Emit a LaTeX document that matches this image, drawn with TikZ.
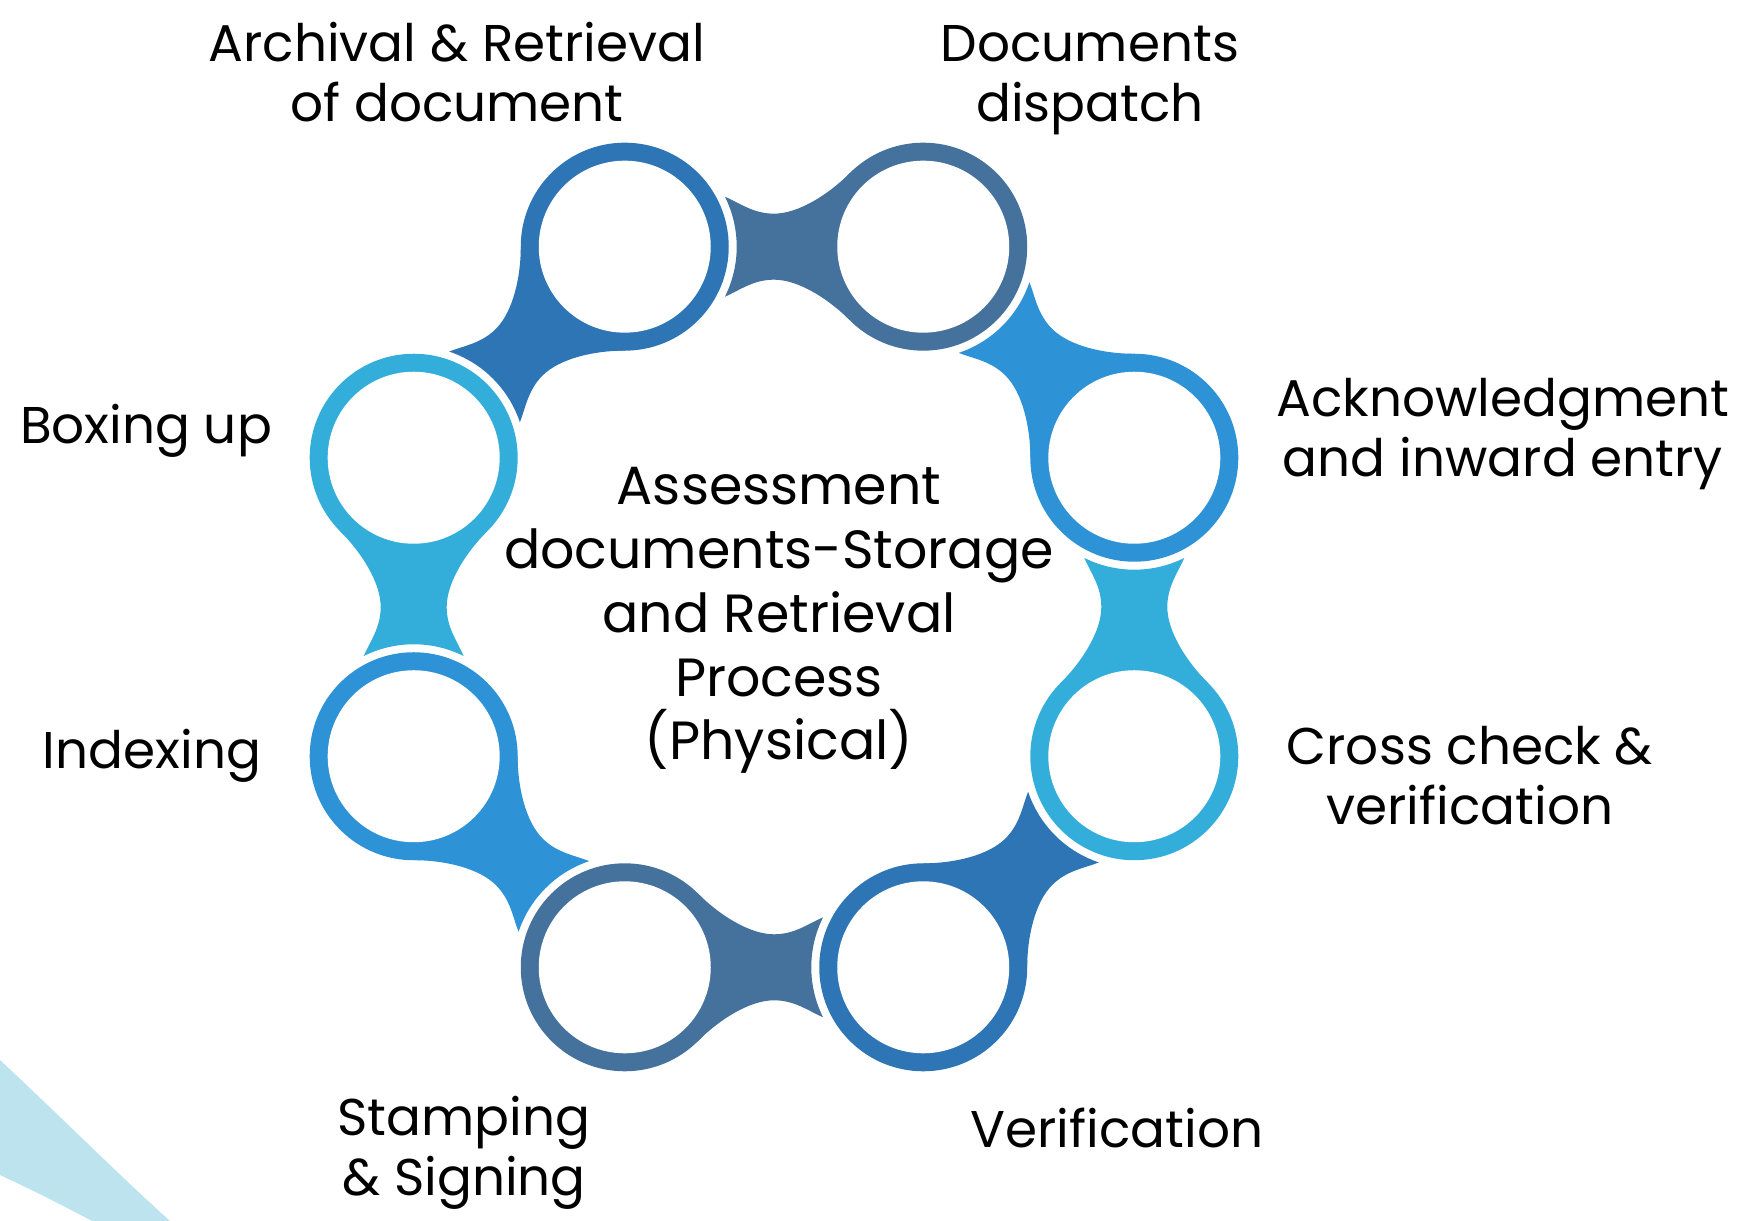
\documentclass[tikz,border=0pt]{standalone}
\usepackage{fontspec}
\setmainfont{Poppins}
\usepackage{xcolor}
\usepackage{tkz-euclide}
\usetikzlibrary{calc}

\definecolor{ringA}{HTML}{2E75B6}
\definecolor{ringB}{HTML}{44729D}
\definecolor{ringC}{HTML}{2E92D6}
\definecolor{ringD}{HTML}{33AEDB}
\definecolor{swoosh}{HTML}{BDE4EE}

% ring with its tail pointing to the next ring
\newcommand{\ringtail}[3]{%
  \begin{scope}[shift={(#1)},rotate=#2]
    \fill[#3] (0,0) circle (1.04);
    \fill[#3] (0.735,0.735) .. controls (0.95,0.52) and (1.25,0.33) .. (1.4925,0.33)
      .. controls (1.70,0.33) and (1.833,0.435) .. (1.983,0.5)
      arc[start angle=153.5,end angle=206.5,radius=1.12]
      .. controls (1.833,-0.435) and (1.70,-0.33) .. (1.4925,-0.33)
      .. controls (1.25,-0.33) and (0.95,-0.52) .. (0.735,-0.735) -- (0,0) -- cycle;
    \fill[white] (0,0) circle (0.86);
  \end{scope}}

\begin{document}
\begin{tikzpicture}[lbl/.style={align=center,anchor=base,font=\fontsize{14.7}{17.1}\selectfont},
    mid/.style={align=center,anchor=base,font=\fontsize{15.3}{18.2}\selectfont}]
	    \useasboundingbox (0,0) rectangle (17.48,12.21);
	    \tkzDefPoint(7.74,6.14){O}
	    \tkzDefPoint(6.2475,9.7431){v_1}
	    \tkzDefPoint(9.2325,9.7431){v_2}
	    \tkzDefPoint(11.3431,7.6325){v_3}
	    \tkzDefPoint(11.3431,4.6475){v_4}
	    \tkzDefPoint(9.2325,2.5369){v_5}
	    \tkzDefPoint(6.2475,2.5369){v_6}
	    \tkzDefPoint(4.1369,4.6475){v_7}
	    \tkzDefPoint(4.1369,7.6325){v_8}

	    % corner swoosh
	    \fill[swoosh] (0,1.61) .. controls (0.6,1.05) and (1.2,0.45) .. (1.70,0)
	      -- (0.92,0) .. controls (0.6,0.17) and (0.3,0.32) .. (0,0.46) -- cycle;

	    \ringtail{v_1}{225}{ringA}
	    \ringtail{v_2}{180}{ringB}
	    \ringtail{v_3}{135}{ringC}
	    \ringtail{v_4}{90}{ringD}
	    \ringtail{v_5}{45}{ringA}
	    \ringtail{v_6}{0}{ringB}
	    \ringtail{v_7}{-45}{ringC}
	    \ringtail{v_8}{-90}{ringD}

	    % base anchor = last line
	    \node[mid] (t) at (7.79,4.61) {Assessment\\documents-Storage\\and Retrieval\\Process\\(Physical)};
	    \node[lbl] (l_1) at (4.57,10.99) {Archival \& Retrieval\\of document};
	    \node[lbl] (l_2) at (10.90,10.99) {Documents\\dispatch};
	    \node[lbl] (l_3) at (15.03,7.44) {Acknowledgment\\and inward entry};
	    \node[lbl] (l_4) at (14.70,3.96) {Cross check \&\\verification};
	    \node[lbl] (l_5) at (11.17,0.73) {Verification};
	    \node[lbl] (l_6) at (4.64,0.25) {Stamping\\\& Signing};
	    \node[lbl] (l_7) at (1.52,4.52) {Indexing};
	    \node[lbl] (l_8) at (1.46,7.77) {Boxing up};
		\end{tikzpicture}
\end{document}
